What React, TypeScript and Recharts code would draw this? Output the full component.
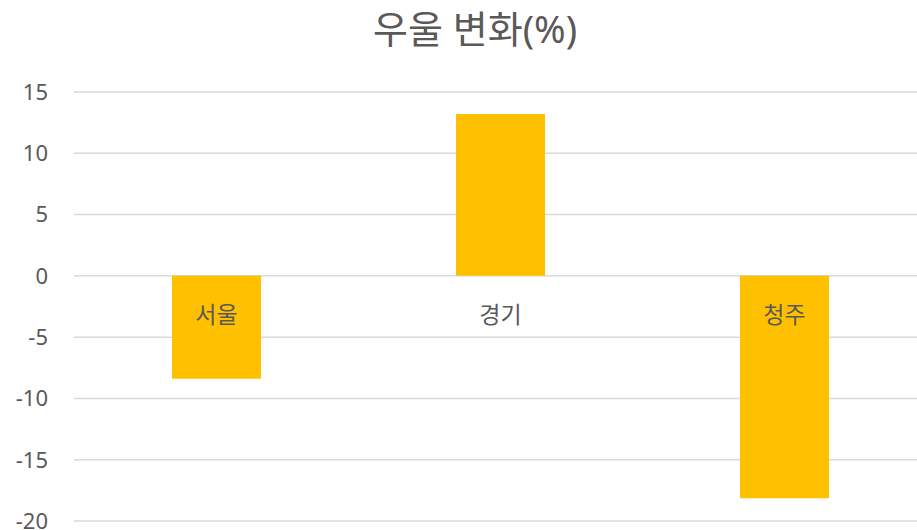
import React from 'react';
import { BarChart, Bar, XAxis, YAxis, CartesianGrid, LabelList } from 'recharts';

const categories = ['서울', '경기', '청주'];
const changes = [-8.4, 13.2, -18.15];
const yTicks = [-20, -15, -10, -5, 0, 5, 10, 15];
const title = '우울 변화(%)';

const data = categories.map((name, i) => ({ name, value: changes[i] }));

const FONT = '"Noto Sans", "Noto Sans CJK KR", sans-serif';
const TEXT = '#595959';

const CategoryLabel = (props: any) => {
  const { x, y, width, height, value } = props;
  const v = data.find((d) => d.name === value);
  const top = Math.min(y, y + height);
  const bottom = Math.max(y, y + height);
  const zeroY = v && v.value >= 0 ? bottom : top;
  return (
    <text
      x={x + width / 2}
      y={zeroY + 38}
      textAnchor="middle"
      dominantBaseline="central"
      fill={TEXT}
      fontSize={23}
      fontFamily={FONT}
    >
      {value}
    </text>
  );
};

export default function App() {
  return (
    <div
      style={{
        position: 'fixed',
        left: 0,
        top: 0,
        width: 917,
        height: 530,
        overflow: 'hidden',
        background: '#fff',
      }}
    >
      <div
        style={{
          position: 'absolute',
          left: 0,
          top: 9,
          width: 950,
          textAlign: 'center',
          fontFamily: FONT,
          fontSize: 38,
          lineHeight: '38px',
          color: TEXT,
        }}
      >
        {title}
      </div>
      <div style={{ position: 'absolute', left: 0, top: 0 }}>
        <BarChart
          width={950}
          height={530}
          data={data}
          margin={{ top: 92, right: 24, bottom: 9, left: 0 }}
        >
          <CartesianGrid vertical={false} stroke="#D9D9D9" strokeWidth={1.5} />
          <XAxis dataKey="name" hide />
          <YAxis
            width={74}
            domain={[-20, 15]}
            ticks={yTicks}
            axisLine={false}
            tickLine={false}
            tickMargin={20}
            tick={{ fill: TEXT, fontSize: 22, fontFamily: FONT }}
            interval={0}
          />
          <Bar dataKey="value" fill="#FFC000" barSize={89} isAnimationActive={false}>
            <LabelList dataKey="name" content={<CategoryLabel />} />
          </Bar>
        </BarChart>
      </div>
    </div>
  );
}
